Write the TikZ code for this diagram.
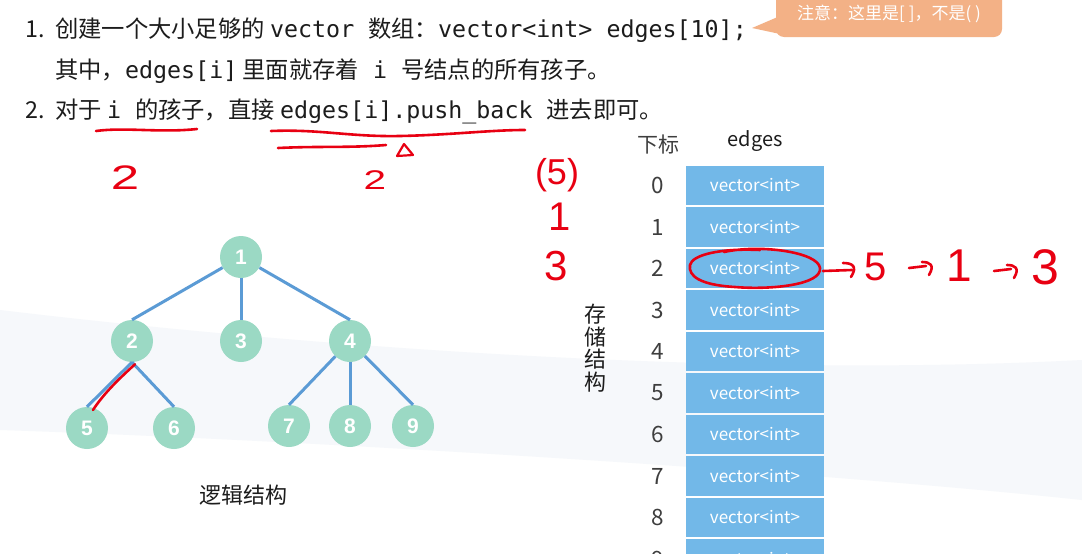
\documentclass[tikz,border=0pt]{standalone}
\usepackage{fontspec}
\setmainfont{Noto Sans CJK SC}
\newfontfamily\cjk{Noto Sans CJK SC}
\newfontfamily\monof{DejaVu Sans Mono}
\newfontfamily\hand{Liberation Sans}
\definecolor{mint}{RGB}{155,217,196}
\definecolor{edgeblue}{RGB}{91,155,213}
\definecolor{cellblue}{RGB}{114,184,232}
\definecolor{callout}{RGB}{243,177,134}
\definecolor{ink}{RGB}{232,0,18}
\definecolor{txt}{RGB}{28,28,28}
\definecolor{bgfaint}{RGB}{246,248,251}
\newcommand{\mono}[1]{{\monof\fontsize{23.3}{28}\selectfont #1}}
\tikzset{
  line/.style={anchor=base west, inner sep=0pt, text=txt, font=\cjk\fontsize{23.3}{28}\selectfont},
  tnode/.style={circle, fill=mint, minimum size=42pt, inner sep=0pt, text=white, font=\hand\bfseries\fontsize{21}{21}\selectfont},
  tedge/.style={draw=edgeblue, line width=3pt},
  cell/.style={fill=cellblue, minimum width=138pt, minimum height=39.5pt, inner sep=0pt, text=white, font=\cjk\fontsize{17}{17}\selectfont},
  idx/.style={text=txt!85, inner sep=0pt, font=\cjk\fontsize{22.5}{22.5}\selectfont},
  lbl/.style={text=txt, inner sep=0pt, font=\cjk\fontsize{22}{24}\selectfont},
  hw/.style={text=ink, inner sep=0pt, font=\hand\fontsize{#1}{#1}\selectfont},
  ink line/.style={draw=ink, line width=2.6pt, line cap=round, line join=round},
}
\begin{document}
\begin{tikzpicture}[x=1pt,y=-1pt]
\useasboundingbox (0,0) rectangle (1082,554);
\clip (0,0) rectangle (1082,554);
\fill[white] (0,0) rectangle (1082,554);
% faint background swoosh
\fill[bgfaint] (0,310) .. controls (250,340) and (700,380) .. (1082,360) -- (1082,500) .. controls (800,470) and (300,440) .. (0,430) -- cycle;

% text lines
\node[line] (l1) at (25,37) {\makebox[30pt][l]{1.}创建一个大小足够的 \mono{vector\ }数组：\mono{vector<int> edges[10];}};
\node[line] (l2) at (55,78) {其中，\mono{edges[i]} 里面就存着\mono{\ i\ }号结点的所有孩子。};
\node[line] (l3) at (25,118) {\makebox[30pt][l]{2.}对于 \mono{i\ }的孩子，直接 \mono{edges[i].push\_back\ }进去即可。};

% callout
\node[fill=callout, rounded corners=8pt, minimum width=226pt, minimum height=46pt, inner sep=0pt, text=white, font=\cjk\fontsize{17}{17}\selectfont] (note) at (889,14) {注意：这里是[ ]，不是( )};
\fill[callout] (752,28) -- (780,16) -- (780,34) -- cycle;

% tree
\node[tnode] (n1) at (241,257) {1};
\node[tnode] (n2) at (132,341) {2};
\node[tnode] (n3) at (241,341) {3};
\node[tnode] (n4) at (350,341) {4};
\node[tnode] (n5) at (87,428) {5};
\node[tnode] (n6) at (174,428) {6};
\node[tnode] (n7) at (289,426) {7};
\node[tnode] (n8) at (350,426) {8};
\node[tnode] (n9) at (413,426) {9};
\draw[tedge] (n1) -- (n2.north);
\draw[tedge] (n1) -- (n3);
\draw[tedge] (n1) -- (n4.north);
\draw[tedge] (n2.south) -- (n5.north);
\draw[tedge] (n2.south) -- (n6.north);
\draw[tedge] (n4) -- (n7.north);
\draw[tedge] (n4) -- (n8);
\draw[tedge] (n4) -- (n9.north);
\node[lbl] (logic) at (243,495) {逻辑结构};

% storage array
\node[idx, font=\cjk\fontsize{21}{21}\selectfont] (hdr) at (658,145) {下标};
\node[lbl, font=\cjk\fontsize{20}{20}\selectfont] (ehdr) at (755,141) {edges};
\foreach \i in {0,...,9} {
  \node[cell] (c\i) at (755,185.5+41.5*\i) {vector<int>};
  \node[idx] (i\i) at (658,185.5+41.5*\i) {\i};
}
\node[lbl, align=center, font=\cjk\fontsize{22}{22.5}\selectfont] (store) at (595,348) {存\\储\\结\\构};

% handwritten annotations
\draw[ink line] (96,131) .. controls (125,127) and (160,133) .. (197,129);
\draw[ink line] (271,131) .. controls (320,129) and (350,137) .. (400,136) .. controls (450,135) and (490,130) .. (525,130);
\draw[ink line] (278,148) .. controls (320,146) and (350,148) .. (386,145);
\draw[ink line, line width=2.2pt] (397,156) -- (404,144) -- (413,155) -- cycle;
\node[hw=34, xscale=1.5] (h2a) at (125,178) {2};
\node[hw=27, xscale=1.5] (h2b) at (375,180) {2};
\node[hw=36] (h5) at (557,175) {(5)};
\node[hw=40] (h1) at (560,217) {1};
\node[hw=42] (h3) at (556,266) {3};
\draw[ink line] (n2.south) ++(3,2) .. controls (120,378) and (104,393) .. (93,410);

% circle around row 2 and chain
\draw[ink line] (724,252) .. controls (760,244) and (818,252) .. (820,268) .. controls (822,285) and (770,290) .. (735,287) .. controls (700,285) and (688,276) .. (690,265) .. controls (692,255) and (720,248) .. (760,250);
\coordinate (a1s) at (823,271);
\draw[ink line] (a1s) -- (852,270);
\draw[ink line] (843,263) .. controls (852,263) and (858,266) .. (851,277);
\node[hw=40] (r5) at (876,267) {5};
\draw[ink line] (909,268) -- (926,266);
\draw[ink line] (922,262) .. controls (930,262) and (935,265) .. (929,275);
\node[hw=46] (r1) at (959,266) {1};
\draw[ink line] (994,271) -- (1011,269);
\draw[ink line] (1007,265) .. controls (1015,265) and (1020,268) .. (1014,278);
\node[hw=50] (r3) at (1045,267) {3};
\end{tikzpicture}
\end{document}
